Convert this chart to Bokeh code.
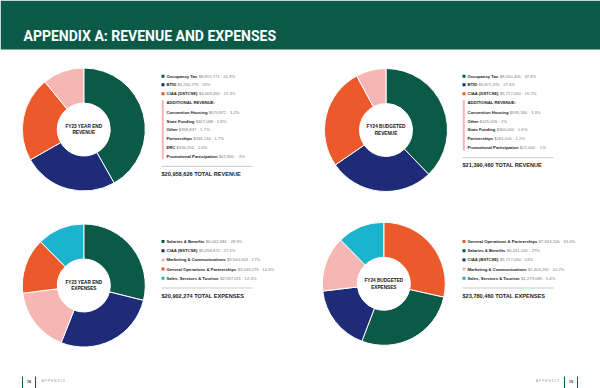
import numpy as np
from bokeh.plotting import figure
from bokeh.models import Range1d, ColumnDataSource
from bokeh.core.properties import value
from bokeh.embed import file_html
from bokeh.resources import INLINE

# ---------------- data ----------------
title_text = "APPENDIX A: REVENUE AND EXPENSES"
additional_heading = "ADDITIONAL REVENUE:"
footer_left = ["18", "A P P E N D I X"]
footer_right = ["A P P E N D I X", "19"]

rev23_center = ["FY23 YEAR END", "REVENUE"]
rev23_main_labels = ["Occupancy Tax", "BTID", "CIAA (DSTCSE)"]
rev23_main_values = ["$8,815,771 · 41.8%", "$5,230,775 · 25%", "$4,668,655 · 22.3%"]
rev23_extra_labels = ["Convention Housing", "State Funding", "Other", "Partnerships", "ERC",
                      "Promotional Participation"]
rev23_extra_values = ["$670,872 · 3.2%", "$367,088 · 1.8%", "$358,837 · 1.7%", "$346,144 · 1.7%",
                      "$336,250 · 1.6%", "$62,900 · .3%"]
rev23_slice_pct = [41.8, 25.0, 22.3, 10.9]
rev23_total = "$20,958,626 TOTAL REVENUE"

rev24_center = ["FY24 BUDGETED", "REVENUE"]
rev24_main_labels = ["Occupancy Tax", "BTID", "CIAA (DSTCSE)"]
rev24_main_values = ["$8,050,405 · 37.8%", "$5,871,370 · 27.6%", "$5,717,050 · 26.7%"]
rev24_extra_labels = ["Convention Housing", "Other", "State Funding", "Partnerships",
                      "Promotional Participation"]
rev24_extra_values = ["$595,330 · 3.3%", "$425,005 · 2%", "$360,000 · 1.6%", "$261,000 · 1.2%",
                      "$22,000 · .1%"]
rev24_slice_pct = [37.8, 27.6, 26.7, 7.9]
rev24_total = "$21,390,460 TOTAL REVENUE"

exp23_center = ["FY23 YEAR END", "EXPENSES"]
exp23_labels = ["Salaries & Benefits", "CIAA (BSTCSE)", "Marketing & Communications",
                "General Operations & Partnerships", "Sales, Services & Tourism"]
exp23_values = ["$6,042,684 · 28.9%", "$5,658,872 · 27.1%", "$3,544,003 · 17%",
                "$3,049,275 · 14.6%", "$2,597,011 · 12.4%"]
exp23_slice_pct = [28.9, 27.1, 17.0, 14.6, 12.4]
exp23_total = "$20,902,274 TOTAL EXPENSES"

exp24_center = ["FY24 BUDGETED", "EXPENSES"]
exp24_labels = ["General Operations & Partnerships", "Salaries & Benefits", "CIAA (BSTCSE)",
                "Marketing & Communications", "Sales, Services & Tourism"]
exp24_values = ["$7,943,205 · 33.4%", "$6,431,020 · 27%", "$5,717,050 · 24%",
                "$2,403,250 · 10.2%", "$1,279,085 · 5.4%"]
exp24_slice_pct = [28.5, 27.3, 17.3, 14.5, 12.4]
exp24_total = "$23,780,460 TOTAL EXPENSES"

# ---------------- style ----------------
GREEN = "#0b5a47"
NAVY = "#1d2b78"
ORANGE = "#ec5a2c"
PINK = "#f6b7b4"
CYAN = "#1bb3cd"
DARK = "#1c1c1c"
GREY = "#808080"
FONT = "Liberation Sans"

rev_colors = [GREEN, NAVY, ORANGE, PINK]
exp23_colors = [GREEN, NAVY, PINK, ORANGE, CYAN]
exp24_colors = [ORANGE, GREEN, NAVY, PINK, CYAN]

# approximate Arial / Liberation Sans advance widths (1/1000 em)
_REG = {" ": 278, "$": 556, "%": 889, "&": 667, "(": 333, ")": 333, ",": 278, "-": 333, ".": 278,
        ":": 278, "·": 278}
_BOLD = {" ": 278, "$": 556, "%": 889, "&": 722, "(": 333, ")": 333, ",": 278, "-": 333, ".": 278,
         ":": 333, "·": 278}
_UP_R = dict(zip("ABCDEFGHIJKLMNOPQRSTUVWXYZ",
                 [667, 667, 722, 722, 667, 611, 778, 722, 278, 500, 667, 556, 833, 722, 778, 667, 778,
                  722, 667, 611, 722, 667, 944, 667, 667, 611]))
_UP_B = dict(zip("ABCDEFGHIJKLMNOPQRSTUVWXYZ",
                 [722, 722, 722, 722, 667, 611, 778, 722, 278, 556, 722, 611, 833, 722, 778, 667, 778,
                  722, 667, 611, 722, 667, 944, 667, 667, 611]))
_LO_R = dict(zip("abcdefghijklmnopqrstuvwxyz",
                 [556, 556, 500, 556, 556, 278, 556, 556, 222, 222, 500, 222, 833, 556, 556, 556, 556,
                  333, 500, 278, 556, 500, 722, 500, 500, 500]))
_LO_B = dict(zip("abcdefghijklmnopqrstuvwxyz",
                 [556, 611, 556, 611, 556, 333, 611, 611, 278, 278, 556, 278, 889, 611, 611, 611, 611,
                  389, 556, 333, 611, 556, 778, 556, 556, 500]))
_REG.update(_UP_R); _REG.update(_LO_R)
_BOLD.update(_UP_B); _BOLD.update(_LO_B)
for d in "0123456789":
    _REG[d] = 556
    _BOLD[d] = 556


def text_width(s, size, bold):
    table = _BOLD if bold else _REG
    return sum(table.get(c, 556) for c in s) / 1000.0 * size


H_REF = 388


def Y(yref):
    return H_REF - yref


p = figure(width=600, height=388, x_range=Range1d(0, 600), y_range=Range1d(0, 388),
           output_backend="svg", toolbar_location=None, min_border=0,
           background_fill_color="white", border_fill_color="white")
p.axis.visible = False
p.grid.visible = False
p.outline_line_color = None


def txt(x, y, s, size, bold=False, color=DARK, align="left", font=FONT):
    p.text(x=[x], y=[Y(y)], text=[s], text_font=value(font), text_font_size=f"{size}px",
           text_font_style="bold" if bold else "normal", text_color=color,
           text_align=align, text_baseline="middle")


def donut(cx, cy, pcts, colors, center_lines):
    frac = np.array(pcts, dtype=float)
    frac = frac / frac.sum()
    ends = np.cumsum(frac)
    starts = ends - frac
    n = len(frac)
    src = ColumnDataSource(dict(x=[cx] * n, y=[Y(cy)] * n,
                                start=np.pi / 2 - starts * 2 * np.pi,
                                end=np.pi / 2 - ends * 2 * np.pi,
                                color=colors))
    p.annular_wedge(x="x", y="y", inner_radius=26.5, outer_radius=61.5, start_angle="start",
                    end_angle="end", direction="clock", fill_color="color", line_color="white",
                    line_width=1.0, source=src)
    txt(cx, cy - 3.2, center_lines[0], 4.7, bold=True, color="#111", align="center")
    txt(cx, cy + 3.4, center_lines[1], 4.7, bold=True, color="#111", align="center")


def row(x, y, name, val, square_color=None, size=4.2):
    if square_color is not None:
        p.rect(x=[x + 1.5], y=[Y(y)], width=3, height=3, fill_color=square_color, line_color=None)
    tx = x + 5
    txt(tx, y, name, size, bold=True, color=DARK)
    vx = tx + text_width(name + " ", size, True)
    txt(vx, y, val, size, bold=False, color=GREY)


def sep_and_total(x0, x1, y_line, y_total, total):
    p.segment(x0=[x0], y0=[Y(y_line)], x1=[x1], y1=[Y(y_line)], line_color="#b5b5b5", line_width=0.7)
    txt(x0, y_total, total, 5.6, bold=True, color=DARK)


def revenue_block(x0, labels, values, extra_labels, extra_values, total):
    main_y = [75.7, 84.3, 93.3]
    for i, (lab, val) in enumerate(zip(labels, values)):
        row(x0, main_y[i], lab, val, rev_colors[i])
    txt(x0 + 5, 102.3, additional_heading, 4.2, bold=True, color=DARK)
    ys = [111.7 + 8.8 * i for i in range(len(extra_labels))]
    p.quad(left=[x0 + 0.3], right=[x0 + 2.3], top=[Y(99.5)], bottom=[Y(ys[-1] + 3)],
           fill_color=PINK, line_color=None)
    for yy, lab, val in zip(ys, extra_labels, extra_values):
        row(x0, yy, lab, val, None)
    y_line = ys[-1] + 10.2
    sep_and_total(x0, x0 + 91, y_line, y_line + 7.2, total)


def expense_block(x0, labels, values, colors, total):
    for i, (lab, val) in enumerate(zip(labels, values)):
        row(x0, 241 + 9.2 * i, lab, val, colors[i])
    sep_and_total(x0, x0 + 91, 287.5, 295.5, total)


# header band
p.quad(left=[0], right=[600], top=[Y(0)], bottom=[Y(49)], fill_color=GREEN, line_color=None)
txt(23, 35, title_text, 14, bold=True, color="white", font="Roboto")

# donuts
donut(83.3, 129, rev23_slice_pct, rev_colors, rev23_center)
donut(385.5, 129.5, rev24_slice_pct, rev_colors, rev24_center)
donut(83.3, 285, exp23_slice_pct, exp23_colors, exp23_center)
donut(383.3, 283.3, exp24_slice_pct, exp24_colors, exp24_center)

# legends
revenue_block(161, rev23_main_labels, rev23_main_values, rev23_extra_labels, rev23_extra_values,
              rev23_total)
revenue_block(462, rev24_main_labels, rev24_main_values, rev24_extra_labels, rev24_extra_values,
              rev24_total)
expense_block(161, exp23_labels, exp23_values, exp23_colors, exp23_total)
expense_block(462, exp24_labels, exp24_values, exp24_colors, exp24_total)

# footer
p.segment(x0=[22, 35, 564, 577], y0=[Y(376)] * 4, x1=[22, 35, 564, 577], y1=[Y(388)] * 4,
          line_color=GREEN, line_width=1.0)
txt(28.5, 380.5, footer_left[0], 3.6, bold=True, color="#333", align="center")
txt(41, 380.5, footer_left[1], 3.4, bold=False, color="#999", align="left")
txt(559, 380.5, footer_right[0], 3.4, bold=False, color="#999", align="right")
txt(570.5, 380.5, footer_right[1], 3.6, bold=True, color="#333", align="center")

open("out.html", "w").write(file_html(p, INLINE))
